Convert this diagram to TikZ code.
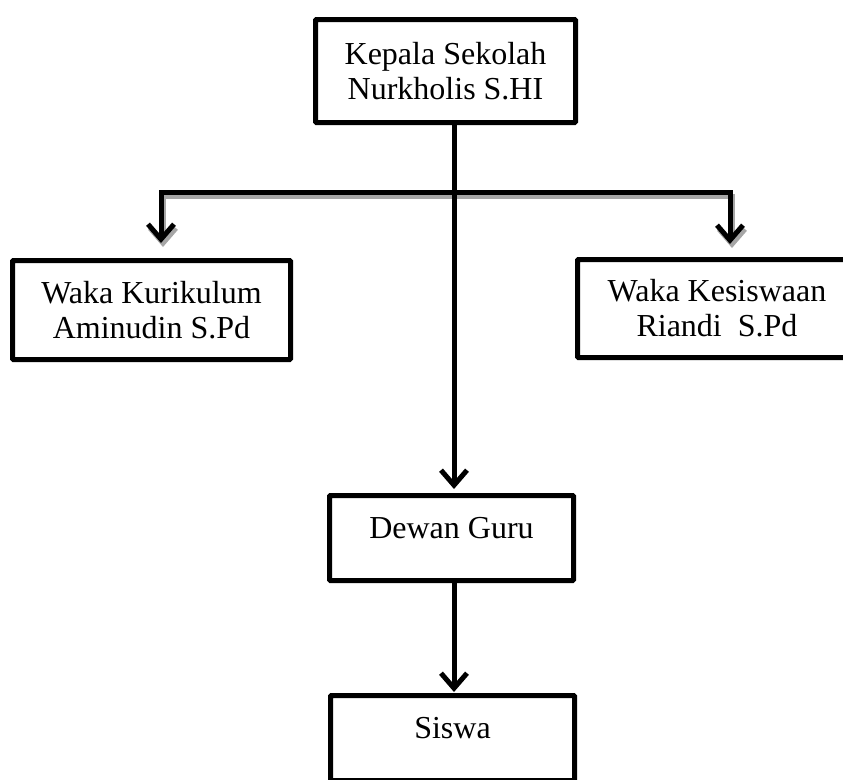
\documentclass[tikz,border=0pt]{standalone}
\usepackage{fontspec}
\setmainfont{Liberation Serif}
\usetikzlibrary{arrows.meta}
\def\boxfont{\fontsize{32}{35}\selectfont}

\begin{document}
\begin{tikzpicture}[x=1pt, y=-1pt, line width=5pt, >={Straight Barb[length=15pt,width=26pt]}]
  \tikzstyle{box}=[rectangle, draw, rounded corners=1pt, inner sep=0pt, align=center, font=\boxfont]
  \tikzstyle{upper}=[text height=20pt, text depth=20pt]
  \tikzstyle{shadow}=[draw=black!35, transform canvas={shift={(2pt,-4pt)}}]

  \path[use as bounding box, clip] (0,0) rectangle (843,779);

  \node[box, minimum width=260pt, minimum height=103pt] (head) at (445.5,71) {Kepala Sekolah\\Nurkholis S.HI};
  \node[box, minimum width=278pt, minimum height=99pt] (kurikulum) at (151.5,310) {Waka Kurikulum\\Aminudin S.Pd};
  \node[box, minimum width=279pt, minimum height=98pt] (kesiswaan) at (717,308.5) {Waka Kesiswaan\\Riandi\ \ S.Pd};
  \node[box, upper, minimum width=244pt, minimum height=85pt] (guru) at (451.5,538) {Dewan Guru};
  \node[box, upper, minimum width=244pt, minimum height=85pt] (siswa) at (452.5,738) {Siswa};

  \coordinate (bar-L) at (161,192);
  \coordinate (bar-M) at (454,192);
  \coordinate (bar-R) at (730,192);

  % branch to the two waka
  \draw[shadow, <->, shorten <=15pt, shorten >=13pt]
    (bar-L |- kurikulum.north) -- (bar-L) -- (bar-R) -- (bar-R |- kesiswaan.north);
  \draw[<->, shorten <=15pt, shorten >=13pt]
    (bar-L |- kurikulum.north) -- (bar-L) -- (bar-R) -- (bar-R |- kesiswaan.north);

  \draw[->, shorten >=4pt] (head.south -| bar-M) -- (guru.north -| bar-M);
  \draw[->, shorten >=1pt] (guru.south -| bar-M) -- (siswa.north -| bar-M);
\end{tikzpicture}
\end{document}
